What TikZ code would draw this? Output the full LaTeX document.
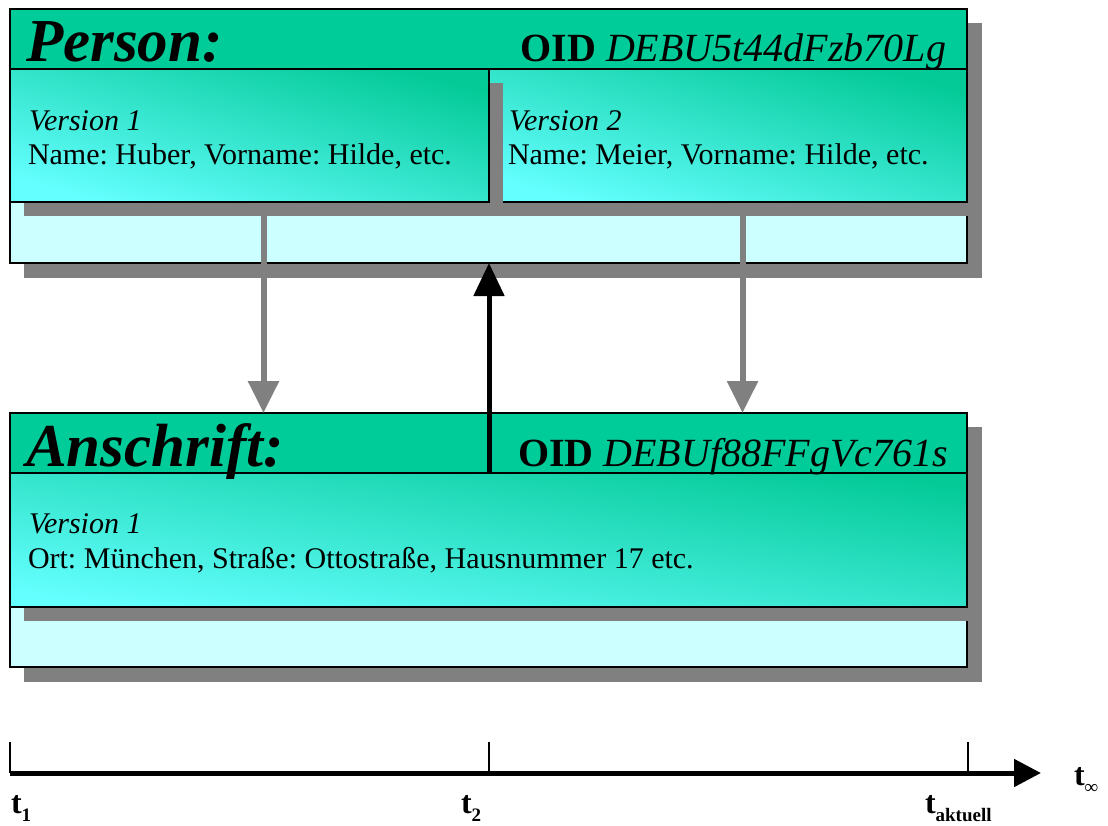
\documentclass[tikz,border=0pt]{standalone}
\usepackage{fontspec}
\setmainfont{Liberation Serif}
\usetikzlibrary{arrows.meta}
\definecolor{hdgreen}{RGB}{0,204,153}
\definecolor{lightcy}{RGB}{204,255,255}
\definecolor{shgray}{RGB}{128,128,128}
\definecolor{gradtop}{RGB}{4,202,152}
\definecolor{gradbot}{RGB}{100,255,255}
\newcommand{\tlab}[1]{{\fontsize{32}{32}\selectfont\bfseries t\raisebox{-8pt}{\fontsize{19}{19}\selectfont #1}}}
\frenchspacing
\begin{document}
\begin{tikzpicture}[x=1pt,y=-1pt,
  every node/.style={inner sep=0pt,outer sep=0pt},
  boxbase/.style={anchor=north west,draw=black,line width=1.6pt},
  outerbox/.style={boxbase,fill=lightcy,line width=1.2pt},
  headbox/.style={boxbase,fill=hdgreen},
  verbox/.style={boxbase,top color=gradtop,bottom color=gradbot,shading angle=#1},
  verbox/.default=-15,
  shadowbox/.style={anchor=north west,fill=shgray},
  titletxt/.style={anchor=base west,font=\fontsize{61}{61}\selectfont\bfseries\itshape},
  oidtxt/.style={anchor=base east,font=\fontsize{40}{40}\selectfont},
  vertxt/.style={anchor=base west,font=\fontsize{30}{30}\selectfont\itshape},
  datatxt/.style={anchor=base west,font=\fontsize{30}{30}\selectfont},
  grayarrow/.style={draw=shgray,line width=6pt,-{Triangle[length=32pt,width=30pt]}},
  blackarrow/.style={draw=black,line width=5pt,-{Triangle[length=33pt,width=30pt]}},
  axisline/.style={draw=black,line width=5pt,-{Triangle[length=27pt,width=27pt]}},
  tickline/.style={draw=black,line width=1.4pt},
  tlabel/.style={anchor=base west}
]
\useasboundingbox (0,0) rectangle (1108,825);

% ---------- Person ----------
\node[shadowbox,minimum width=958pt,minimum height=255pt] (pouters) at (24,23) {};
\node[outerbox,minimum width=957pt,minimum height=254pt] (pouter) at (10,9) {};
\node[shadowbox,minimum width=479pt,minimum height=133pt] (pv2s) at (503,83) {};
\node[verbox,minimum width=478pt,minimum height=133pt] (pv2) at (489,69) {};
\node[shadowbox,minimum width=479pt,minimum height=133pt] (pv1s) at (24,83) {};
\node[verbox,minimum width=479pt,minimum height=133pt] (pv1) at (10,69) {};
\node[headbox,minimum width=957pt,minimum height=60pt] (phead) at (10,9) {};
\node[titletxt] (ptitle) at (26,61) {Person:};
\node[oidtxt] (poid) at (946,61) {\textbf{OID} \textit{DEBU5t44dFzb70Lg}};
\node[vertxt] (pv1ver) at (29,130) {Version 1};
\node[datatxt] (pv1dat) at (28,164) {Name: Huber, Vorname: Hilde, etc.};
\node[vertxt] (pv2ver) at (509,130) {Version 2};
\node[datatxt] (pv2dat) at (508,164) {Name: Meier, Vorname: Hilde, etc.};

% ---------- Anschrift ----------
\node[shadowbox,minimum width=958pt,minimum height=255pt] (aouters) at (24,427) {};
\node[outerbox,minimum width=957pt,minimum height=254pt] (aouter) at (10,413) {};
\node[shadowbox,minimum width=958pt,minimum height=134pt] (av1s) at (24,487) {};
\node[verbox=-8,minimum width=957pt,minimum height=134pt] (av1) at (10,473) {};
\node[headbox,minimum width=957pt,minimum height=60pt] (ahead) at (10,413) {};
\node[titletxt] (atitle) at (26,466) {Anschrift:};
\node[oidtxt] (aoid) at (948,466) {\textbf{OID} \textit{DEBUf88FFgVc761s}};
\node[vertxt] (av1ver) at (29,533) {Version 1};
\node[datatxt] (av1dat) at (28,568) {Ort: München, Straße: Ottostraße, Hausnummer 17 etc.};

% ---------- connectors ----------
\draw[grayarrow] (pv1s.south) -- (pv1s.south |- ahead.north);
\draw[grayarrow] (pv2s.south) -- (pv2s.south |- ahead.north);
\draw[blackarrow] (pv1.south east |- ahead.south) -- (pv1.south east |- pouter.south);

% ---------- time axis ----------
\coordinate (t1) at (10,773);
\coordinate (t2) at (489,773);
\coordinate (ta) at (968,773);
\coordinate (tend) at (1041,773);
\coordinate (t1top) at (10,742);
\coordinate (t2top) at (489,742);
\coordinate (tatop) at (968,742);
\draw[tickline] (t1top) -- (t1);
\draw[tickline] (t2top) -- (t2);
\draw[tickline] (tatop) -- (ta);
\draw[axisline] (t1) -- (tend);
\node[tlabel] (lt1) at (11,813) {\tlab{1}};
\node[tlabel] (lt2) at (461,813) {\tlab{2}};
\node[tlabel] (lta) at (925,813) {\tlab{aktuell}};
\node[tlabel] (ltinf) at (1074,785) {\tlab{∞}};
\end{tikzpicture}
\end{document}
